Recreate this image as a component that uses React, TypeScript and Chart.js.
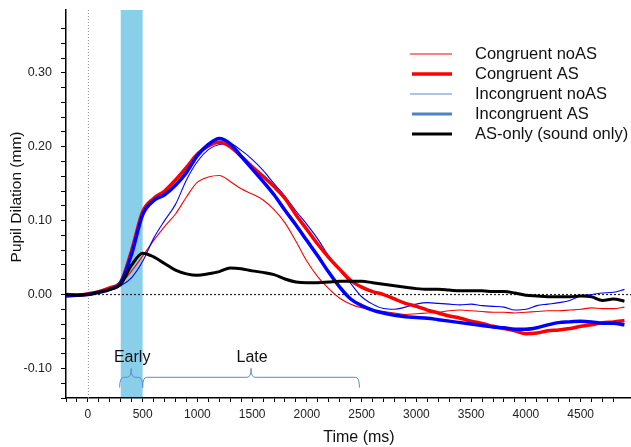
import React, { useEffect, useRef } from 'react';
import { Chart, registerables } from 'chart.js';

Chart.register(...registerables);

// ---- data ----
const timesMs = [
  -200, -100, 0, 100, 200, 300, 400, 500, 600, 700,
  800, 900, 1000, 1100, 1200, 1300, 1400, 1500, 1600, 1700,
  1800, 1900, 2000, 2100, 2200, 2300, 2400, 2500, 2600, 2700,
  2800, 2900, 3000, 3100, 3200, 3300, 3400, 3500, 3600, 3700,
  3800, 3900, 4000, 4100, 4200, 4300, 4400, 4500, 4600, 4700,
  4800, 4900,
];

const congruentNoAS = [
  0.000, 0.000, 0.002, 0.005, 0.009, 0.015, 0.032, 0.052, 0.073, 0.092,
  0.109, 0.132, 0.152, 0.159, 0.161, 0.153, 0.143, 0.136, 0.128, 0.115,
  0.097, 0.072, 0.045, 0.024, 0.008, -0.005, -0.013, -0.018, -0.021, -0.023,
  -0.025, -0.027, -0.026, -0.025, -0.024, -0.022, -0.021, -0.022, -0.023, -0.024,
  -0.024, -0.025, -0.024, -0.023, -0.022, -0.022, -0.021, -0.020, -0.018, -0.019,
  -0.019, -0.017,
];

const congruentAS = [
  0.000, -0.001, 0.001, 0.004, 0.009, 0.017, 0.060, 0.112, 0.130, 0.140,
  0.155, 0.172, 0.190, 0.201, 0.206, 0.200, 0.187, 0.173, 0.160, 0.146,
  0.130, 0.108, 0.088, 0.068, 0.050, 0.034, 0.019, 0.010, 0.004, 0.000,
  -0.006, -0.012, -0.016, -0.021, -0.025, -0.029, -0.032, -0.036, -0.039, -0.043,
  -0.046, -0.049, -0.053, -0.052, -0.049, -0.048, -0.046, -0.043, -0.041, -0.038,
  -0.037, -0.035,
];

const incongruentNoAS = [
  -0.002, -0.001, 0.001, 0.003, 0.006, 0.012, 0.023, 0.045, 0.076, 0.100,
  0.122, 0.155, 0.180, 0.196, 0.203, 0.204, 0.195, 0.183, 0.168, 0.150,
  0.133, 0.113, 0.095, 0.075, 0.052, 0.033, 0.015, -0.003, -0.013, -0.019,
  -0.020, -0.017, -0.013, -0.011, -0.012, -0.013, -0.014, -0.013, -0.015, -0.016,
  -0.017, -0.021, -0.020, -0.015, -0.013, -0.011, -0.008, -0.002, 0.000, 0.002,
  0.003, 0.007,
];

const incongruentAS = [
  -0.002, -0.001, 0.000, 0.003, 0.007, 0.016, 0.055, 0.108, 0.127, 0.135,
  0.148, 0.165, 0.188, 0.203, 0.211, 0.204, 0.187, 0.170, 0.153, 0.135,
  0.114, 0.094, 0.073, 0.052, 0.030, 0.010, -0.006, -0.015, -0.021, -0.025,
  -0.028, -0.030, -0.031, -0.032, -0.034, -0.036, -0.038, -0.040, -0.042, -0.044,
  -0.045, -0.047, -0.047, -0.045, -0.041, -0.038, -0.037, -0.036, -0.037, -0.039,
  -0.039, -0.041,
];

const asOnly = [
  0.000, -0.001, 0.000, 0.003, 0.007, 0.014, 0.040, 0.056, 0.051, 0.042,
  0.033, 0.028, 0.026, 0.028, 0.031, 0.036, 0.035, 0.032, 0.030, 0.027,
  0.021, 0.017, 0.016, 0.016, 0.017, 0.018, 0.018, 0.018, 0.016, 0.014,
  0.012, 0.010, 0.008, 0.007, 0.007, 0.006, 0.005, 0.005, 0.005, 0.004,
  0.004, 0.002, -0.001, -0.002, -0.003, -0.003, -0.003, -0.002, -0.003, -0.008,
  -0.006, -0.009,
];

const seriesLabels = [
  'Congruent noAS',
  'Congruent AS',
  'Incongruent noAS',
  'Incongruent AS',
  'AS-only (sound only)',
];

const xRange = [-200, 4960];
const yRange = [-0.14, 0.385];
const stimWindow = [300, 500];
const bracketLabels = ['Early', 'Late'];
const bracketStarts = [290, 500];
const bracketEnds = [500, 2480];
const xAxisTitle = 'Time (ms)';
const yAxisTitle = 'Pupil Dilation (mm)';

const FONT = '"Liberation Sans", Arial, Helvetica, sans-serif';

const seriesStyle = [
  { color: '#ff0000', width: 1.1, legendColor: '#ff0000', legendWidth: 1.2, order: 4 },
  { color: '#ff0000', width: 3.5, legendColor: '#ff0000', legendWidth: 3.5, order: 2 },
  { color: '#0000ff', width: 1.1, legendColor: '#5a8ad4', legendWidth: 1.2, order: 3 },
  { color: '#0000ff', width: 3.5, legendColor: '#4f80c8', legendWidth: 3, order: 1 },
  { color: '#000000', width: 3, legendColor: '#000000', legendWidth: 3, order: 0 },
];

const seriesValues = [congruentNoAS, congruentAS, incongruentNoAS, incongruentAS, asOnly];

const overlayPlugin = {
  id: 'overlay',
  beforeDatasetsDraw(chart: any) {
    const { ctx, chartArea, scales } = chart;
    const x = scales.x;
    const y = scales.y;
    ctx.save();
    const x0 = x.getPixelForValue(stimWindow[0]);
    const x1 = x.getPixelForValue(stimWindow[1]);
    ctx.fillStyle = '#89cfea';
    ctx.fillRect(x0, chartArea.top, x1 - x0, chartArea.bottom - chartArea.top - 1);
    const xz = x.getPixelForValue(0);
    ctx.setLineDash([1, 2]);
    ctx.strokeStyle = '#8a8a8a';
    ctx.lineWidth = 1;
    ctx.beginPath();
    ctx.moveTo(xz + 0.5, chartArea.top);
    ctx.lineTo(xz + 0.5, chartArea.bottom);
    ctx.stroke();
    const yz = y.getPixelForValue(0);
    ctx.setLineDash([2, 2]);
    ctx.strokeStyle = '#222';
    ctx.lineWidth = 1.2;
    ctx.beginPath();
    ctx.moveTo(chartArea.left, yz);
    ctx.lineTo(chartArea.right, yz);
    ctx.stroke();
    ctx.restore();
  },
  afterDatasetsDraw(chart: any) {
    const { ctx, scales } = chart;
    const x = scales.x;
    const y = scales.y;
    ctx.save();
    const yBase = y.getPixelForValue(-0.112);
    const yEnd = y.getPixelForValue(-0.126);
    const yTip = y.getPixelForValue(-0.1);
    const yText = y.getPixelForValue(-0.085);
    ctx.strokeStyle = '#5b8bd2';
    ctx.lineWidth = 1;
    for (let i = 0; i < bracketLabels.length; i++) {
      const xa = x.getPixelForValue(bracketStarts[i]);
      const xb = x.getPixelForValue(bracketEnds[i]);
      const xm = (xa + xb) / 2;
      const r = 4;
      ctx.beginPath();
      ctx.moveTo(xa, yEnd);
      ctx.quadraticCurveTo(xa, yBase, xa + r, yBase);
      ctx.lineTo(xm - r, yBase);
      ctx.quadraticCurveTo(xm, yBase, xm, yTip);
      ctx.quadraticCurveTo(xm, yBase, xm + r, yBase);
      ctx.lineTo(xb - r, yBase);
      ctx.quadraticCurveTo(xb, yBase, xb, yEnd);
      ctx.stroke();
      ctx.fillStyle = '#111';
      ctx.font = `16px ${FONT}`;
      ctx.textAlign = 'center';
      ctx.textBaseline = 'middle';
      ctx.fillText(bracketLabels[i], xm + 1, yText);
    }
    ctx.restore();
  },
  afterDraw(chart: any) {
    const { ctx } = chart;
    ctx.save();
    ctx.font = `16.5px ${FONT}`;
    ctx.textAlign = 'left';
    ctx.textBaseline = 'middle';
    for (let i = 0; i < seriesLabels.length; i++) {
      const st = seriesStyle[i];
      const cy = 54 + i * 20;
      ctx.strokeStyle = st.legendColor;
      ctx.lineWidth = st.legendWidth;
      ctx.beginPath();
      ctx.moveTo(st.legendWidth > 2 ? 412 : 410, cy);
      ctx.lineTo(452, cy);
      ctx.stroke();
      ctx.fillStyle = '#111';
      ctx.fillText(chart.data.datasets[i].label, 475, cy);
    }
    ctx.fillStyle = '#111';
    ctx.font = `16px ${FONT}`;
    ctx.textAlign = 'center';
    ctx.fillText(xAxisTitle, 359, 438);
    ctx.translate(17, 197);
    ctx.rotate(-Math.PI / 2);
    ctx.font = `15.5px ${FONT}`;
    ctx.fillText(yAxisTitle, 0, 0);
    ctx.restore();
  },
};

function isMultiple(v: number, step: number) {
  const q = v / step;
  return Math.abs(q - Math.round(q)) < 1e-6;
}

export default function App() {
  const canvasRef = useRef<HTMLCanvasElement | null>(null);

  useEffect(() => {
    document.body.style.margin = '0';
    const canvas = canvasRef.current;
    if (!canvas) return;
    const datasets = seriesLabels.map((label, i) => ({
      label,
      data: timesMs.map((t, j) => ({ x: t, y: seriesValues[i][j] })),
      borderColor: seriesStyle[i].color,
      borderWidth: seriesStyle[i].width,
      pointRadius: 0,
      fill: false,
      tension: 0.4,
      cubicInterpolationMode: 'monotone' as const,
      order: seriesStyle[i].order,
    }));

    const chart = new Chart(canvas, {
      type: 'line',
      data: { datasets },
      options: {
        responsive: false,
        animation: false,
        devicePixelRatio: 1,
        layout: { padding: { top: 10, left: 0, right: 0, bottom: 0 } },
        plugins: { legend: { display: false }, tooltip: { enabled: false } },
        scales: {
          x: {
            type: 'linear',
            min: xRange[0],
            max: xRange[1],
            afterBuildTicks: (s: any) => {
              s.ticks = s.ticks.filter((t: any) => isMultiple(t.value, 100));
            },
            afterFit: (s: any) => {
              s.height = 49;
              s.paddingLeft = 0;
              s.paddingRight = 0;
            },
            ticks: {
              stepSize: 100,
              autoSkip: false,
              maxRotation: 0,
              minRotation: 0,
              padding: 5,
              color: '#222',
              font: { family: FONT, size: 12 },
              callback: (v: any) => {
                const n = Math.round(Number(v));
                return n >= 0 && n % 500 === 0 ? String(n) : '';
              },
            },
            grid: {
              display: true,
              drawOnChartArea: false,
              drawTicks: true,
              tickLength: 4,
              tickColor: '#000',
              color: '#000',
            },
            border: { display: true, color: '#000', width: 1.5 },
          },
          y: {
            type: 'linear',
            min: yRange[0],
            max: yRange[1],
            afterBuildTicks: (s: any) => {
              s.ticks = s.ticks.filter((t: any) => isMultiple(t.value, 0.02));
            },
            afterFit: (s: any) => {
              s.width = 66;
              s.paddingTop = 0;
              s.paddingBottom = 0;
            },
            ticks: {
              stepSize: 0.02,
              autoSkip: false,
              padding: 9,
              color: '#222',
              font: { family: FONT, size: 12.5 },
              callback: (v: any) => {
                const n = Number(v);
                if (!isMultiple(n, 0.1)) return '';
                return (Math.round(n * 100) / 100).toFixed(2);
              },
            },
            grid: {
              display: true,
              drawOnChartArea: false,
              drawTicks: true,
              tickLength: 5,
              tickColor: '#000',
              color: '#000',
            },
            border: { display: true, color: '#000', width: 1.5 },
          },
        },
      },
      plugins: [overlayPlugin],
    });

    return () => {
      chart.destroy();
    };
  }, []);

  return (
    <div style={{ width: 631, height: 447 }}>
      <canvas ref={canvasRef} width={631} height={447} style={{ display: 'block' }} />
    </div>
  );
}
